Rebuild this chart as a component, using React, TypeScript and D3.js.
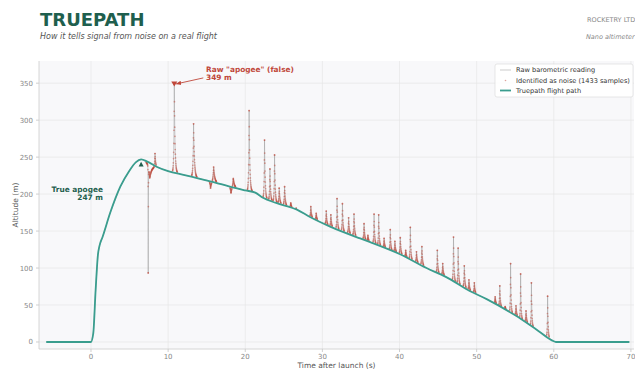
import React from "react";
import * as d3 from "d3";

// flight path (time s, altitude m)
const pathTimes = [-5.8, 0, 0.3, 0.6, 0.9, 1.1, 1.5, 2.5, 3.8, 5, 5.8, 6.5, 7.3, 8.5, 10, 12, 14, 16, 18, 20, 21.3, 22.3, 24, 26.7, 28.4, 31, 34.9, 36.2, 40, 43.5, 46, 49.1, 51.3, 55, 58, 60, 60.3, 69.8];
const pathAlts = [0, 0, 12, 70, 118, 130, 142, 175, 210, 232, 243, 247, 244, 237, 231, 226, 221, 216, 210, 205, 202, 195, 188, 179, 169, 156, 140, 135, 119, 100, 88, 69, 58, 36, 15, 1, 0, 0];

// barometric glitches: time, altitude reached, decay (s)
const spikeTimes = [7.42, 7.62, 8.3, 10.8, 13.3, 15.5, 15.9, 18.15, 18.45, 20.5, 22.5, 23.2, 23.8, 24.4, 25.1, 25.9, 26.6, 28.5, 29.2, 30.5, 31.1, 31.9, 32.6, 33.4, 34.1, 35.4, 35.9, 36.7, 37.3, 38.0, 38.8, 39.4, 40.1, 40.8, 41.4, 42.2, 42.9, 44.9, 45.6, 47.0, 47.6, 48.4, 49.0, 49.7, 52.4, 53.0, 53.7, 54.4, 55.1, 55.7, 56.4, 57.1, 59.2];
const spikePeaks = [100, 222, 257, 349, 295, 208, 237, 201, 222, 313, 273, 234, 253, 208, 210, 188, 181, 183, 174, 177, 172, 194, 187, 168, 173, 160, 144, 173, 172, 140, 152, 136, 141, 124, 155, 122, 129, 124, 106, 142, 127, 103, 84, 80, 61, 76, 48, 106, 49, 92, 42, 80, 62];
const spikeWidths = [0.02, 0.3, 0.08, 0.09, 0.11, 0.12, 0.14, 0.12, 0.14, 0.09, 0.08, 0.08, 0.08, 0.09, 0.09, 0.09, 0.09, 0.08, 0.08, 0.08, 0.08, 0.07, 0.07, 0.08, 0.08, 0.08, 0.08, 0.07, 0.07, 0.08, 0.07, 0.08, 0.08, 0.08, 0.07, 0.08, 0.08, 0.07, 0.08, 0.07, 0.07, 0.08, 0.08, 0.08, 0.08, 0.07, 0.08, 0.06, 0.08, 0.06, 0.08, 0.06, 0.06];

const xTicks = [0, 10, 20, 30, 40, 50, 60, 70];
const yTicks = [0, 50, 100, 150, 200, 250, 300, 350];

const trueApogee = { t: 6.5, alt: 247 };
const falseApogee = { t: 10.8, alt: 349 };

const FONT = "DejaVu Sans, sans-serif";
const GREEN = "#1f5f4e";
const TEAL = "#3a9d8e";
const RED = "#c0473a";

export default function App() {
  const W = 635, H = 370;
  const left = 39, right = 634, top = 61, bottom = 349;

  const x = d3.scaleLinear().domain([-6.74, 70.4]).range([left, right]);
  const y = d3.scaleLinear().domain([-9.5, 380]).range([bottom, top]);

  const pathAt = d3.scaleLinear().domain(pathTimes).range(pathAlts).clamp(true);

  // raw samples: flight path plus glitch contributions
  const grid = d3.range(-5.8, 69.8, 0.02).concat(spikeTimes).sort((a, b) => a - b);
  const raw = grid.map((t) => {
    const base = pathAt(t);
    let v = base;
    spikeTimes.forEach((st, i) => {
      const amp = spikePeaks[i] - pathAt(st);
      const w = spikeWidths[i] * (t < st ? 0.6 : 1);
      v += amp * Math.exp(-Math.abs(t - st) / w);
    });
    return { t, v, noise: Math.abs(v - base) > 1.5 };
  });

  const rawLine = d3.line<any>().x((d) => x(d.t)).y((d) => y(d.v))(raw) || "";
  const flightPts = pathTimes.map((t, i) => [t, pathAlts[i]] as [number, number]);
  const flightLine = d3.line().x((d) => x(d[0])).y((d) => y(d[1])).curve(d3.curveMonotoneX)(flightPts) || "";
  const noisePts = raw.filter((d) => d.noise);

  const fx = x(falseApogee.t), fy = y(falseApogee.alt);
  const tx = x(trueApogee.t), ty = y(trueApogee.alt) + 5;

  return (
    <svg width={W} height={H} style={{ position: "absolute", left: 0, top: 0, fontFamily: FONT }}>
      <defs>
        <clipPath id="plot">
          <rect x={left} y={top} width={right - left} height={bottom - top} />
        </clipPath>
        <marker id="arr" viewBox="0 0 10 10" refX="9" refY="5" markerWidth="6" markerHeight="6" orient="auto">
          <path d="M0,1 L10,5 L0,9 z" fill={RED} />
        </marker>
      </defs>
      <rect width={W} height={H} fill="#fff" />
      <text x={40} y={26} fontSize={18} fontWeight="bold" fill={GREEN}>TRUEPATH</text>
      <text x={40} y={39} fontSize={8} fontStyle="italic" fill="#555">How it tells signal from noise on a real flight</text>
      <text x={587} y={22} fontSize={6.5} fill="#888">ROCKETRY LTD</text>
      <text x={586} y={39} fontSize={6.5} fontStyle="italic" fill="#888">Nano altimeter</text>

      <rect x={left} y={top} width={right - left} height={bottom - top} fill="#f8f8fa" />
      {xTicks.map((t) => (
        <g key={"x" + t}>
          <line x1={x(t)} x2={x(t)} y1={top} y2={bottom} stroke="#e6e6e6" strokeWidth={0.7} />
          <line x1={x(t)} x2={x(t)} y1={bottom} y2={bottom + 3} stroke="#bbb" strokeWidth={0.7} />
          <text x={x(t)} y={359} fontSize={7} fill="#888" textAnchor="middle">{t}</text>
        </g>
      ))}
      {yTicks.map((v) => (
        <g key={"y" + v}>
          <line x1={left} x2={right} y1={y(v)} y2={y(v)} stroke="#e6e6e6" strokeWidth={0.7} />
          <line x1={left - 3} x2={left} y1={y(v)} y2={y(v)} stroke="#bbb" strokeWidth={0.7} />
          <text x={left - 6} y={y(v) + 2.5} fontSize={7} fill="#888" textAnchor="end">{v}</text>
        </g>
      ))}
      <line x1={left} x2={left} y1={top} y2={bottom} stroke="#ccc" strokeWidth={0.8} />
      <line x1={left} x2={right} y1={bottom} y2={bottom} stroke="#ccc" strokeWidth={0.8} />

      <g clipPath="url(#plot)">
        <path d={rawLine} fill="none" stroke="#999" strokeWidth={0.5} />
        {noisePts.map((d, i) => (
          <circle key={i} cx={x(d.t)} cy={y(d.v)} r={0.85} fill={RED} fillOpacity={0.5} />
        ))}
        <path d={flightLine} fill="none" stroke={TEAL} strokeWidth={1.8} strokeLinejoin="round" />
      </g>

      {/* false apogee */}
      <path d={`M${fx - 3},${fy - 2.5} L${fx + 3},${fy - 2.5} L${fx},${fy + 2.5} z`} fill={RED} />
      <line x1={fx + 29} y1={fy - 6} x2={fx + 2} y2={fy} stroke={RED} strokeWidth={0.9} markerEnd="url(#arr)" />
      <text x={206} y={72} fontSize={7.4} fontWeight="bold" fill={RED}>Raw "apogee" (false)</text>
      <text x={206} y={80} fontSize={7.4} fontWeight="bold" fill={RED}>{falseApogee.alt} m</text>

      {/* true apogee */}
      <path d={`M${tx - 2.5},${ty + 2.2} L${tx + 2.5},${ty + 2.2} L${tx},${ty - 2.5} z`} fill={GREEN} />
      <text x={103} y={192} fontSize={7.4} fontWeight="bold" fill={GREEN} textAnchor="end">True apogee</text>
      <text x={103} y={200} fontSize={7.4} fontWeight="bold" fill={GREEN} textAnchor="end">{trueApogee.alt} m</text>

      <text x={(left + right) / 2} y={368} fontSize={7.5} fill="#555" textAnchor="middle">Time after launch (s)</text>
      <text transform={`translate(18,${(top + bottom) / 2}) rotate(-90)`} fontSize={7.5} fill="#555" textAnchor="middle">Altitude (m)</text>

      {/* legend */}
      <rect x={495} y={64} width={138} height={33} rx={2} fill="#fff" fillOpacity={0.9} stroke="#ddd" strokeWidth={0.7} />
      <line x1={500} x2={511} y1={70} y2={70} stroke="#a8a8a8" strokeWidth={0.6} />
      <text x={516} y={72.3} fontSize={6.6} fill="#333">Raw barometric reading</text>
      <circle cx={505.5} cy={80.5} r={0.8} fill={RED} fillOpacity={0.5} />
      <text x={516} y={83} fontSize={6.6} fill="#333">Identified as noise (1433 samples)</text>
      <line x1={500} x2={511} y1={90.5} y2={90.5} stroke={TEAL} strokeWidth={1.8} />
      <text x={516} y={93} fontSize={6.6} fill="#333">Truepath flight path</text>
    </svg>
  );
}
